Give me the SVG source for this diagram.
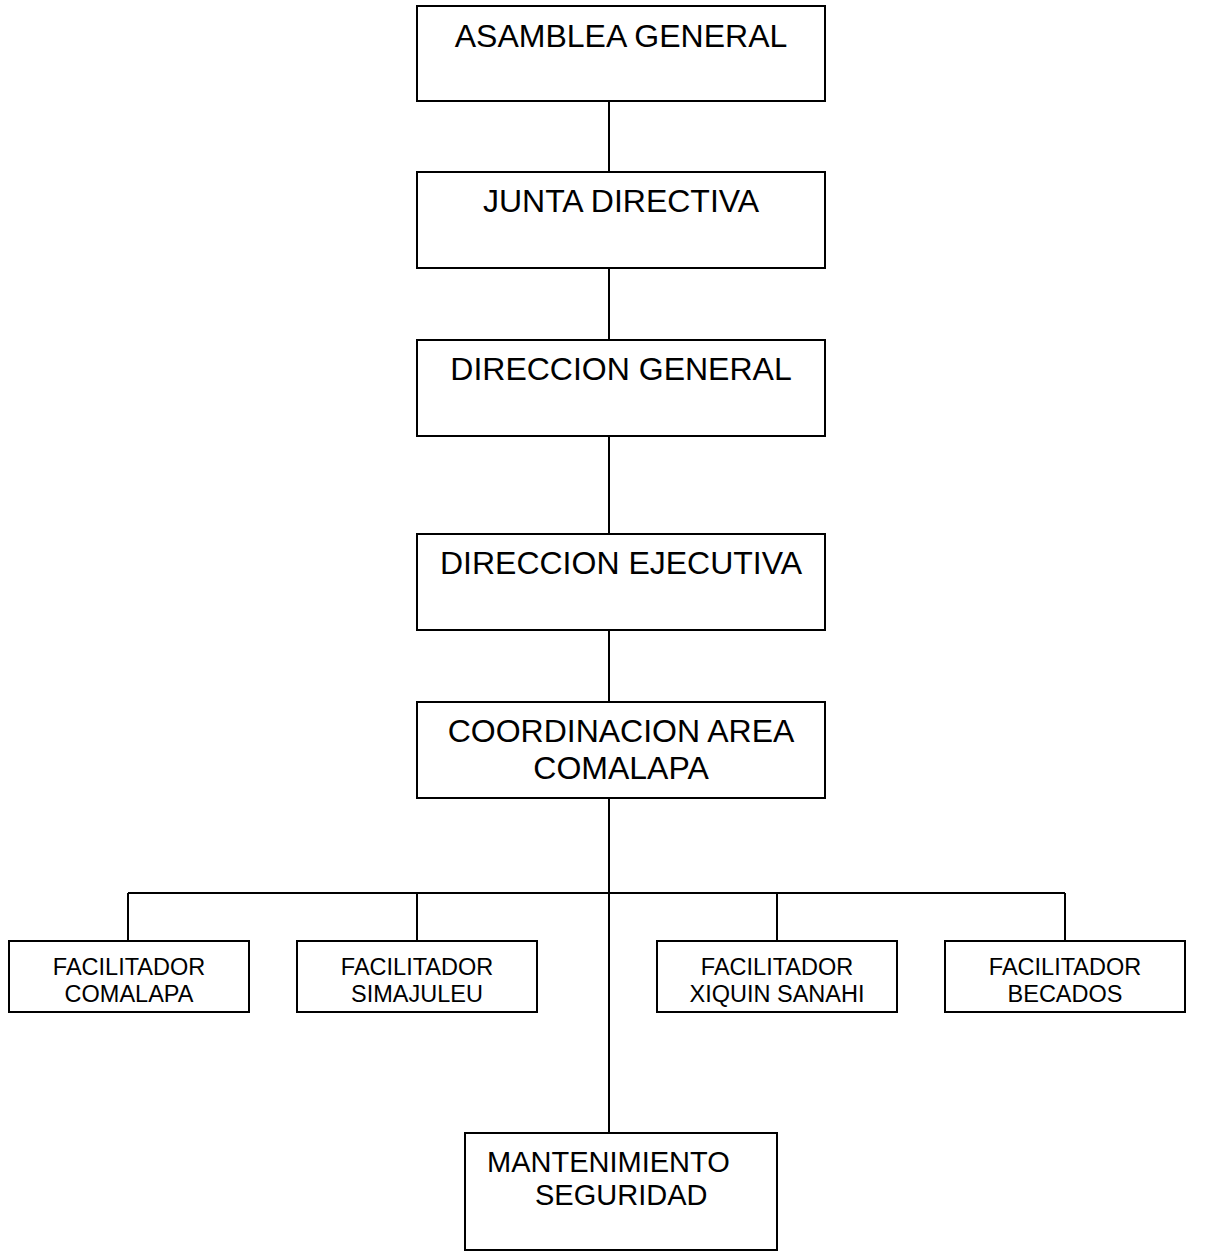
<svg xmlns="http://www.w3.org/2000/svg" width="1211" height="1252" viewBox="0 0 1211 1252">
<style>
.box{fill:#fff;stroke:#000;stroke-width:2}
.ln{stroke:#000;stroke-width:2;fill:none}
.big{font-family:"Liberation Sans",Arial,sans-serif;font-size:32px;fill:#000;text-anchor:middle}
.mid{font-family:"Liberation Sans",Arial,sans-serif;font-size:29px;fill:#000}
.sm{font-family:"Liberation Sans",Arial,sans-serif;font-size:23.5px;fill:#000;text-anchor:middle}
</style>
<rect width="1211" height="1252" fill="#fff"/>
<g id="connectors">
<line class="ln" x1="609" y1="101" x2="609" y2="172"/>
<line class="ln" x1="609" y1="268" x2="609" y2="340"/>
<line class="ln" x1="609" y1="436" x2="609" y2="534"/>
<line class="ln" x1="609" y1="630" x2="609" y2="702"/>
<line class="ln" x1="609" y1="798" x2="609" y2="1133"/>
<line class="ln" x1="128" y1="893" x2="1065" y2="893"/>
<line class="ln" x1="128" y1="893" x2="128" y2="941"/>
<line class="ln" x1="417" y1="893" x2="417" y2="941"/>
<line class="ln" x1="777" y1="893" x2="777" y2="941"/>
<line class="ln" x1="1065" y1="893" x2="1065" y2="941"/>
</g>
<g id="asamblea">
<rect class="box" x="417" y="6" width="408" height="95"/>
<text class="big" x="621" y="47">ASAMBLEA GENERAL</text>
</g>
<g id="junta">
<rect class="box" x="417" y="172" width="408" height="96"/>
<text class="big" x="621" y="212">JUNTA DIRECTIVA</text>
</g>
<g id="direccion-general">
<rect class="box" x="417" y="340" width="408" height="96"/>
<text class="big" x="621" y="380">DIRECCION GENERAL</text>
</g>
<g id="direccion-ejecutiva">
<rect class="box" x="417" y="534" width="408" height="96"/>
<text class="big" x="621" y="574">DIRECCION EJECUTIVA</text>
</g>
<g id="coordinacion">
<rect class="box" x="417" y="702" width="408" height="96"/>
<text class="big" x="621" y="742">COORDINACION AREA</text>
<text class="big" x="621" y="779">COMALAPA</text>
</g>
<g id="fac-comalapa">
<rect class="box" x="9" y="941" width="240" height="71"/>
<text class="sm" x="129" y="975">FACILITADOR</text>
<text class="sm" x="129" y="1002">COMALAPA</text>
</g>
<g id="fac-simajuleu">
<rect class="box" x="297" y="941" width="240" height="71"/>
<text class="sm" x="417" y="975">FACILITADOR</text>
<text class="sm" x="417" y="1002">SIMAJULEU</text>
</g>
<g id="fac-xiquin">
<rect class="box" x="657" y="941" width="240" height="71"/>
<text class="sm" x="777" y="975">FACILITADOR</text>
<text class="sm" x="777" y="1002">XIQUIN SANAHI</text>
</g>
<g id="fac-becados">
<rect class="box" x="945" y="941" width="240" height="71"/>
<text class="sm" x="1065" y="975">FACILITADOR</text>
<text class="sm" x="1065" y="1002">BECADOS</text>
</g>
<g id="mantenimiento">
<rect class="box" x="465" y="1133" width="312" height="117"/>
<text class="mid" x="487" y="1172">MANTENIMIENTO</text>
<text class="mid" x="535" y="1205">SEGURIDAD</text>
</g>
</svg>
